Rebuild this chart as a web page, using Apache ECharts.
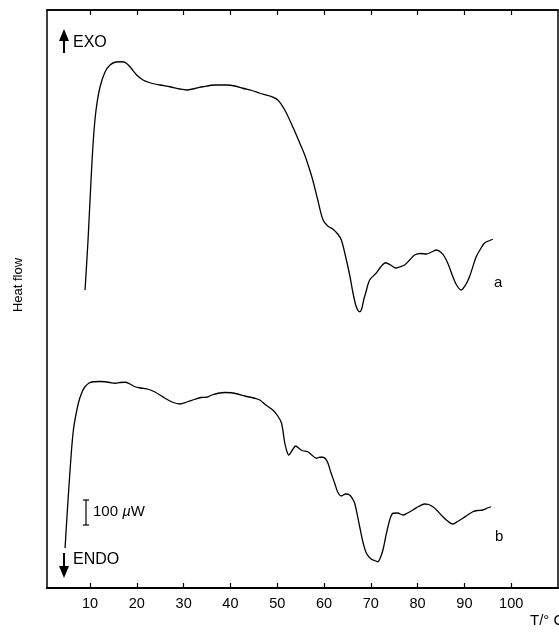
<!DOCTYPE html>
<html>
<head>
<meta charset="utf-8">
<script src="https://cdn.jsdelivr.net/npm/echarts@6/dist/echarts.min.js"></script>
<style>
  html, body { margin: 0; padding: 0; background: #fff; }
  #main { width: 559px; height: 633px; }
</style>
</head>
<body>
<div id="main"></div>
<script>
// temperature (°C) and heat flow (µW, arbitrary zero)
const tempA = [8.93, 9.57, 10.21, 10.70, 11.28, 12.13, 13.20, 14.27, 15.55, 16.76, 17.68, 18.75, 19.97, 21.31, 22.80, 24.94, 27.07, 29.21, 30.64, 32.41, 34.11, 36.68, 39.17, 40.94, 42.65, 44.57, 46.28, 48.41, 50.12, 51.61, 53.32, 54.81, 55.88, 56.95, 57.59, 58.66, 59.79, 60.79, 61.86, 62.92, 63.71, 64.78, 65.48, 66.19, 66.77, 67.19, 67.62, 68.04, 68.47, 68.90, 69.75, 71.18, 72.10, 73.17, 74.23, 75.30, 76.15, 77.22, 78.29, 79.36, 80.64, 81.85, 82.98, 83.99, 84.90, 85.76, 86.61, 87.53, 88.32, 89.32, 90.24, 91.09, 92.52, 93.44, 94.29, 95.15, 96.07];
const flowA = [1192, 1392, 1632, 1792, 1912, 2004, 2064, 2092, 2104, 2105, 2100, 2080, 2052, 2032, 2021, 2012, 2005, 1996, 1992, 1998, 2005, 2012, 2012, 2008, 1999, 1990, 1979, 1968, 1952, 1912, 1845, 1780, 1732, 1672, 1632, 1552, 1472, 1448, 1436, 1416, 1392, 1312, 1252, 1180, 1132, 1112, 1105, 1116, 1152, 1180, 1232, 1260, 1284, 1301, 1292, 1280, 1284, 1292, 1312, 1332, 1338, 1336, 1344, 1352, 1344, 1325, 1292, 1245, 1212, 1192, 1212, 1245, 1325, 1356, 1380, 1388, 1395];

const tempB = [4.66, 5.09, 5.73, 6.44, 7.50, 8.29, 8.93, 9.79, 10.70, 12.13, 13.20, 14.27, 15.34, 16.40, 17.47, 18.54, 19.60, 20.88, 22.44, 23.87, 26.01, 27.50, 29.21, 30.70, 32.41, 33.69, 34.90, 36.04, 37.38, 38.81, 40.24, 41.58, 43.08, 45.21, 46.28, 47.56, 49.05, 50.12, 50.91, 51.61, 52.04, 52.47, 53.11, 53.96, 54.81, 55.45, 56.52, 57.38, 58.38, 59.08, 59.79, 60.36, 60.85, 61.43, 62.28, 62.92, 63.71, 64.63, 65.48, 66.12, 66.55, 66.98, 67.62, 68.26, 69.05, 70.12, 70.82, 71.52, 72.10, 72.59, 73.17, 73.66, 74.23, 74.73, 75.73, 76.86, 77.86, 78.99, 80.21, 81.49, 82.34, 83.26, 84.26, 85.39, 86.40, 87.53, 88.53, 89.66, 90.67, 91.80, 92.80, 93.93, 94.93, 95.72];
const flowB = [160, 292, 472, 632, 739, 784, 805, 820, 825, 826, 825, 822, 819, 822, 823, 816, 805, 800, 795, 784, 759, 744, 736, 744, 755, 762, 763, 772, 779, 782, 781, 776, 768, 759, 752, 732, 712, 688, 660, 580, 548, 532, 548, 568, 556, 549, 545, 532, 519, 523, 523, 516, 499, 464, 419, 384, 368, 376, 372, 356, 339, 304, 245, 188, 139, 115, 110, 105, 124, 152, 204, 245, 284, 299, 300, 292, 300, 312, 326, 336, 334, 325, 308, 285, 268, 256, 266, 279, 292, 305, 310, 312, 320, 325];

const tickValues = [10, 20, 30, 40, 50, 60, 70, 80, 90, 100];

const font = "'Liberation Sans', Arial, sans-serif";

const myChart = echarts.init(document.getElementById("main"));

function pairs(xs, ys) {
  return xs.map((x, i) => [x, ys[i]]);
}

const option = {
  animation: false,
  backgroundColor: "#fff",
  grid: {
    left: 47,
    right: 1,
    top: 10,
    bottom: 45,
    show: true,
    borderColor: "#000",
    borderWidth: 1.5,
  },
  xAxis: [
    {
      type: "value",
      min: 0.8,
      max: 110,
      position: "bottom",
      axisLine: { show: true, lineStyle: { color: "#000", width: 2 } },
      axisTick: {
        show: true,
        inside: true,
        length: 5,
        customValues: tickValues,
        lineStyle: { color: "#000", width: 1.2 },
      },
      axisLabel: {
        customValues: tickValues,
        color: "#000",
        fontSize: 14.5,
        fontFamily: font,
        margin: 8,
      },
      splitLine: { show: false },
    },
    {
      type: "value",
      min: 0.8,
      max: 110,
      position: "top",
      axisLine: { show: true, lineStyle: { color: "#000", width: 1.5 } },
      axisTick: {
        show: true,
        inside: true,
        length: 5,
        customValues: tickValues,
        lineStyle: { color: "#000", width: 1.2 },
      },
      axisLabel: { show: false },
      splitLine: { show: false },
    },
  ],
  yAxis: {
    type: "value",
    min: 0,
    max: 2312,
    axisLine: { show: false },
    axisTick: { show: false },
    axisLabel: { show: false },
    splitLine: { show: false },
  },
  series: [
    {
      name: "a",
      type: "line",
      data: pairs(tempA, flowA),
      showSymbol: false,
      smooth: 0.3,
      lineStyle: { color: "#000", width: 1.3 },
    },
    {
      name: "b",
      type: "line",
      data: pairs(tempB, flowB),
      showSymbol: false,
      smooth: 0.3,
      lineStyle: { color: "#000", width: 1.3 },
    },
  ],
  graphic: [
    // EXO arrow
    { type: "line", shape: { x1: 64, y1: 40, x2: 64, y2: 53 }, style: { stroke: "#000", lineWidth: 2 } },
    { type: "polygon", shape: { points: [[59, 41], [69, 41], [64, 29]] }, style: { fill: "#000" } },
    { type: "text", left: 73, top: 35, style: { text: "EXO", fill: "#000", font: "16px " + font } },
    // ENDO arrow
    { type: "line", shape: { x1: 64, y1: 553, x2: 64, y2: 567 }, style: { stroke: "#000", lineWidth: 2 } },
    { type: "polygon", shape: { points: [[59, 566], [69, 566], [64, 578]] }, style: { fill: "#000" } },
    { type: "text", left: 73, top: 552, style: { text: "ENDO", fill: "#000", font: "16px " + font } },
    // 100 µW scale bar
    { type: "line", shape: { x1: 86, y1: 500, x2: 86, y2: 525 }, style: { stroke: "#000", lineWidth: 1.2 } },
    { type: "line", shape: { x1: 83, y1: 500, x2: 89, y2: 500 }, style: { stroke: "#000", lineWidth: 1.2 } },
    { type: "line", shape: { x1: 83, y1: 525, x2: 89, y2: 525 }, style: { stroke: "#000", lineWidth: 1.2 } },
    {
      type: "text",
      left: 93,
      top: 504,
      style: {
        text: "100 {i|µ}W",
        fill: "#000",
        font: "15px " + font,
        rich: { i: { fontStyle: "italic", fontSize: 15, fontFamily: font, fill: "#000" } },
      },
    },
    // curve labels
    { type: "text", left: 494, top: 275, style: { text: "a", fill: "#000", font: "15px " + font } },
    { type: "text", left: 495, top: 529, style: { text: "b", fill: "#000", font: "15px " + font } },
    // axis titles
    {
      type: "text",
      x: 18,
      y: 285,
      rotation: Math.PI / 2,
      style: { text: "Heat flow", fill: "#000", font: "13px " + font, align: "center", verticalAlign: "middle" },
    },
    { type: "text", left: 530, top: 613, style: { text: "T/° C", fill: "#000", font: "15px " + font } },
  ],
};

myChart.setOption(option);
</script>
</body>
</html>
